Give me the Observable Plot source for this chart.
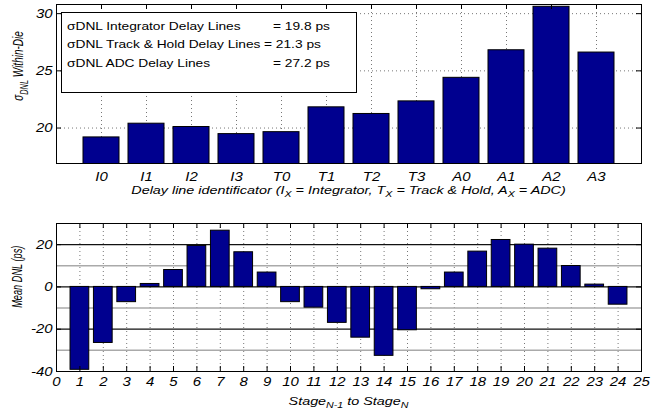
<!DOCTYPE html>
<html><head><meta charset="utf-8">
<script src="https://cdn.jsdelivr.net/npm/d3@7"></script>
<script src="https://cdn.jsdelivr.net/npm/@observablehq/plot@0.6"></script>
<style>
body{margin:0;background:#fff}
#chart svg{display:block;font-family:'Liberation Sans',Arial,sans-serif}
</style>
</head><body><div id="chart"></div>
<script>
// ---------- data ----------
const delayLines = ["I0","I1","I2","I3","T0","T1","T2","T3","A0","A1","A2","A3"];
const sigmaDNL   = [19.18, 20.38, 20.09, 19.47, 19.64, 21.81, 21.23, 22.33, 24.39, 26.8, 30.6, 26.6];
const topYTicks  = [20, 25, 30];
const legendLabels = ["σDNL Integrator Delay Lines", "σDNL Track & Hold Delay Lines", "σDNL ADC Delay Lines"];
const legendValues = ["= 19.8 ps", "= 21.3 ps", "= 27.2 ps"];

const stages  = [1,2,3,4,5,6,7,8,9,10,11,12,13,14,15,16,17,18,19,20,21,22,23,24];
const meanDNL = [-39.2,-26.5,-7.2,1.4,8.0,19.4,26.6,16.4,6.8,-7.2,-9.8,-17.0,-24.0,-32.6,-20.5,-1.1,6.8,16.7,22.2,20.0,18.1,9.9,1.1,-8.4];
const bottomXTicks = [0,1,2,3,4,5,6,7,8,9,10,11,12,13,14,15,16,17,18,19,20,21,22,23,24,25];
const bottomYTicks = [-40,-20,0,20];
const bottomMajorGrid = [-20,0,20];
const bottomMinorGrid = [-30,-10,10];

// ---------- shared styles ----------
const FONT = "Liberation Sans";
const TICK_FS = 13;
const TICK_SX = 1.15;
const LAB_FS = 11.5;
const LEG_FS = 11;
const SX = 1.25;          // horizontal stretch of the reference's lettering
const SXR = 1.5;          // stretch for the rotated axis titles
const BAR = "#00008F";
const W = 651;
const tick = 5;
const txt = {fontFamily: FONT, fontSize: TICK_FS, fontStyle: "italic", fill: "#000"};

// ---------- top chart ----------
const topData = delayLines.map((id, i) => ({id, pos: i + 1, v: sigmaDNL[i]}));
const topPos = topData.map(d => d.pos);
const tM = {top: 4, right: 10, bottom: 37, left: 56}, tH = 200;
const tIW = W - tM.left - tM.right, tIH = tH - tM.top - tM.bottom;

const topChart = Plot.plot({
  width: W, height: tH,
  marginTop: tM.top, marginRight: tM.right, marginBottom: tM.bottom, marginLeft: tM.left,
  style: {background: "#fff", overflow: "visible"},
  x: {domain: [0, delayLines.length + 1]},
  y: {domain: [16.9, 30.8]},
  marks: [
    Plot.ruleY(topYTicks, {stroke: "#777", strokeDasharray: "1,3"}),
    Plot.ruleX(topPos, {stroke: "#777", strokeDasharray: "1,3"}),
    Plot.rectY(topData, {x1: d => d.pos - 0.4, x2: d => d.pos + 0.4, y1: 0, y2: "v", fill: BAR, stroke: "#000", strokeWidth: 1, clip: true}),
    Plot.ruleX(topPos, {stroke: "#000", insetBottom: tIH - tick}),
    Plot.ruleY(topYTicks, {stroke: "#000", insetRight: tIW - tick}),
    Plot.ruleY(topYTicks, {stroke: "#000", insetLeft: tIW - tick}),
    Plot.frame({stroke: "#000"}),
    Plot.axisY(topYTicks, {anchor: "left", tickSize: 0, tickPadding: 4, label: null, tickFormat: d => String(d), ...txt}),
    Plot.axisX(topPos, {anchor: "bottom", tickSize: 0, tickPadding: 8, label: null, tickFormat: p => delayLines[p - 1], ...txt})
  ]
});

// ---------- bottom chart ----------
const botData = stages.map((s, i) => ({s, v: meanDNL[i]}));
const bM = {top: 23, right: 10, bottom: 43, left: 56}, bH = 214;
const bIW = W - bM.left - bM.right, bIH = bH - bM.top - bM.bottom;

const botChart = Plot.plot({
  width: W, height: bH,
  marginTop: bM.top, marginRight: bM.right, marginBottom: bM.bottom, marginLeft: bM.left,
  style: {background: "#fff", overflow: "visible"},
  x: {domain: [0, 25]},
  y: {domain: [-40, 30]},
  marks: [
    Plot.ruleX(stages, {stroke: "#777", strokeDasharray: "1,3"}),
    Plot.ruleY(bottomMinorGrid, {stroke: "#aaa", strokeWidth: 1.5}),
    Plot.ruleY(bottomMajorGrid, {stroke: "#111", strokeWidth: 1.3}),
    Plot.rectY(botData, {x1: d => d.s - 0.4, x2: d => d.s + 0.4, y1: 0, y2: "v", fill: BAR, stroke: "#000", strokeWidth: 1}),
    Plot.ruleX(bottomXTicks, {stroke: "#000", insetBottom: bIH - tick}),
    Plot.ruleX(bottomXTicks, {stroke: "#000", insetTop: bIH - tick}),
    Plot.ruleY(bottomYTicks, {stroke: "#000", insetRight: bIW - tick}),
    Plot.ruleY(bottomYTicks, {stroke: "#000", insetLeft: bIW - tick}),
    Plot.frame({stroke: "#000"}),
    Plot.axisY(bottomYTicks, {anchor: "left", tickSize: 0, tickPadding: 4, label: null, tickFormat: d => String(d), ...txt}),
    Plot.axisX(bottomXTicks, {anchor: "bottom", tickSize: 0, tickPadding: 5, label: null, tickFormat: d => String(d), ...txt})
  ]
});

const host = document.getElementById("chart");
host.append(topChart, botChart);

// stretch tick labels horizontally about their own anchor, like the reference lettering
for (const svg of [topChart, botChart]) {
  svg.querySelectorAll('g[aria-label$="tick label"] text').forEach(t => {
    const tr = t.getAttribute("transform");
    if (tr && /translate/.test(tr)) {
      t.setAttribute("transform", tr + ` scale(${TICK_SX},1)`);
    } else {
      const x = +(t.getAttribute("x") || 0), y = +(t.getAttribute("y") || 0);
      t.setAttribute("x", 0); t.setAttribute("y", 0);
      t.setAttribute("transform", (tr ? tr + " " : "") + `translate(${x},${y}) scale(${TICK_SX},1)`);
    }
  });
}

// ---------- labels & legend ----------
function rich(svg, parts, transform, {anchor = "middle", italic = true, size = LAB_FS} = {}) {
  const t = d3.select(svg).append("text")
    .attr("font-family", FONT).attr("font-size", size).attr("font-style", italic ? "italic" : "normal")
    .attr("fill", "#000").attr("text-anchor", anchor).attr("transform", transform);
  const subSize = size * 0.74, shift = size * 0.3;
  let prevSub = false;
  for (const [s, sub] of parts) {
    const ts = t.append("tspan").text(s);
    if (sub) { ts.attr("font-size", subSize); if (!prevSub) ts.attr("dy", shift); }
    else if (prevSub) ts.attr("dy", -shift);
    prevSub = sub;
  }
  return t;
}

// top y label
rich(topChart, [["σ", false], ["DNL", true], [" Within-Die", false]],
  `translate(23.3,66) scale(${SXR},1) rotate(-90)`, {size: 10});
// top x label
rich(topChart, [["Delay line identificator (I", false], ["X", true], [" = Integrator, T", false], ["X", true],
  [" = Track & Hold, A", false], ["X", true], [" = ADC)", false]],
  `translate(${tM.left + tIW / 2},193.5) scale(${SX},1)`);
// bottom y label
rich(botChart, [["Mean DNL (ps)", false]],
  `translate(21.7,${276.7 - 200}) scale(${SXR},1) rotate(-90)`, {size: 9.2});
// bottom x label
rich(botChart, [["Stage", false], ["N-1", true], [" to Stage", false], ["N", true]],
  `translate(${bM.left + bIW / 2},205) scale(${SX},1)`);

// legend box
const lg = d3.select(topChart).append("g");
lg.append("rect").attr("x", 61.5).attr("y", 12.5).attr("width", 295).attr("height", 80)
  .attr("fill", "#fff").attr("stroke", "#000").attr("stroke-width", 1);
const baselines = [29.5, 48, 66.5];
const valueX = [273, 264, 273];
legendLabels.forEach((lab, i) => {
  rich(topChart, [[lab, false]], `translate(67,${baselines[i]}) scale(${SX},1)`, {anchor: "start", italic: false, size: LEG_FS});
  rich(topChart, [[legendValues[i], false]], `translate(${valueX[i]},${baselines[i]}) scale(${SX},1)`, {anchor: "start", italic: false, size: LEG_FS});
});
</script>
</body></html>
